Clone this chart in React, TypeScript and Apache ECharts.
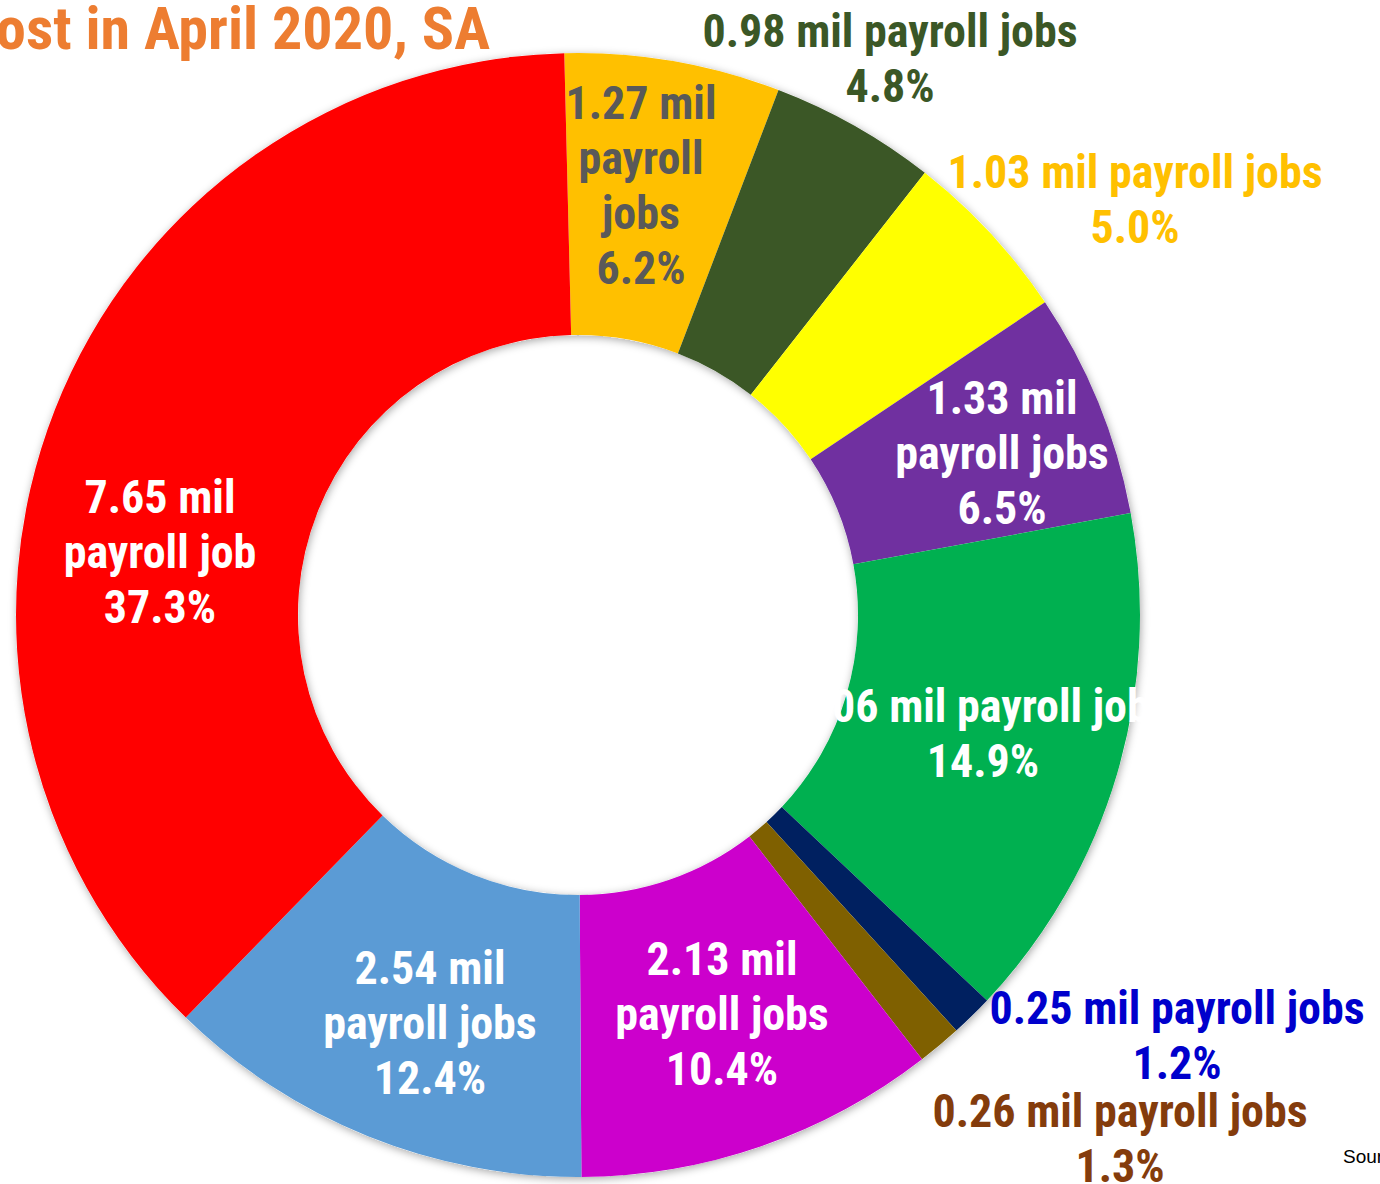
import React, { useEffect, useRef } from "react";
import * as echarts from "echarts";

// ---- data ----
const categories = [
  "Sector A", "Sector B", "Sector C", "Sector D", "Sector E",
  "Sector F", "Sector G", "Sector H", "Sector I", "Sector J",
];
const jobsLostMil = [1.27, 0.98, 1.03, 1.33, 3.06, 0.25, 0.26, 2.13, 2.54, 7.65];
const labelMiddle = [
  "mil\npayroll\njobs",
  "mil payroll jobs",
  "mil payroll jobs",
  "mil\npayroll jobs",
  "mil payroll jobs",
  "mil payroll jobs",
  "mil payroll jobs",
  "mil\npayroll jobs",
  "mil\npayroll jobs",
  "mil\npayroll job",
];
const titleText = "Lost in April 2020, SA";
const sourceText = "Source: BLS";

// ---- styles ----
const sliceColors = [
  "#FFC000", "#3B5726", "#FFFF00", "#7030A0", "#00B050",
  "#002060", "#7F6000", "#CC00CC", "#5B9BD5", "#FF0000",
];
const labelColors = [
  "#595959", "#3B5726", "#FFC000", "#FFFFFF", "#FFFFFF",
  "#0000CC", "#843C0C", "#FFFFFF", "#FFFFFF", "#FFFFFF",
];
// label block centres (manually placed labels, as in the original)
const labelPos: [number, number][] = [
  [641, 185], [890, 58], [1135, 199], [1002, 453], [983, 733],
  [1177, 1035], [1120, 1138], [722, 1014], [430, 1023], [160, 552],
];

const FONT = "'Roboto Condensed', 'Liberation Sans Narrow', 'Arial Narrow', sans-serif";

export default function App() {
  const ref = useRef<HTMLDivElement>(null);
  useEffect(() => {
    document.body.style.margin = "0";
    if (!ref.current) return;
    const chart = echarts.init(ref.current, undefined, { renderer: "svg" });
    const total = jobsLostMil.reduce((a, b) => a + b, 0);
    chart.setOption({
      animation: false,
      backgroundColor: "#FFFFFF",
      graphic: [
        {
          type: "text",
          x: 490,
          y: 28,
          style: {
            text: titleText,
            fill: "#ED7D31",
            font: `bold 60px ${FONT}`,
            textAlign: "right",
            textVerticalAlign: "middle",
          },
        },
        {
          type: "text",
          x: 1343,
          y: 1156,
          style: {
            text: sourceText,
            fill: "#000000",
            font: `19px 'Liberation Sans', Arial, sans-serif`,
            textAlign: "left",
            textVerticalAlign: "middle",
          },
        },
      ],
      series: [
        {
          type: "pie",
          silent: true,
          center: [578, 615],
          radius: [280, 562],
          label: { show: false },
          labelLine: { show: false },
          itemStyle: {
            color: "#FFFFFF",
            shadowBlur: 8,
            shadowColor: "rgba(0,0,0,0.35)",
            shadowOffsetX: 1,
            shadowOffsetY: 2,
          },
          data: [{ value: total, name: "ring" }],
        },
        {
          type: "pie",
          center: [578, 615],
          radius: [280, 562],
          startAngle: 91.4,
          clockwise: true,
          avoidLabelOverlap: false,
          labelLine: { show: false },
          label: {
            show: true,
            position: "inside",
            fontFamily: FONT,
            fontWeight: "bold",
            fontSize: 46,
            lineHeight: 55,
            align: "center",
            formatter: (p: any) => {
              const v = jobsLostMil[p.dataIndex];
              const pct = ((v / total) * 100).toFixed(1);
              return `${v.toFixed(2)} ${labelMiddle[p.dataIndex]}\n${pct}%`;
            },
          },
          labelLayout: (p: any) => ({
            x: labelPos[p.dataIndex][0],
            y: labelPos[p.dataIndex][1],
            align: "center",
            verticalAlign: "middle",
          }),
          data: jobsLostMil.map((v, i) => ({
            value: v,
            name: categories[i],
            itemStyle: { color: sliceColors[i] },
            label: { color: labelColors[i] },
          })),
        },
      ],
    });
    return () => chart.dispose();
  }, []);
  return <div ref={ref} style={{ width: 1380, height: 1184 }} />;
}
